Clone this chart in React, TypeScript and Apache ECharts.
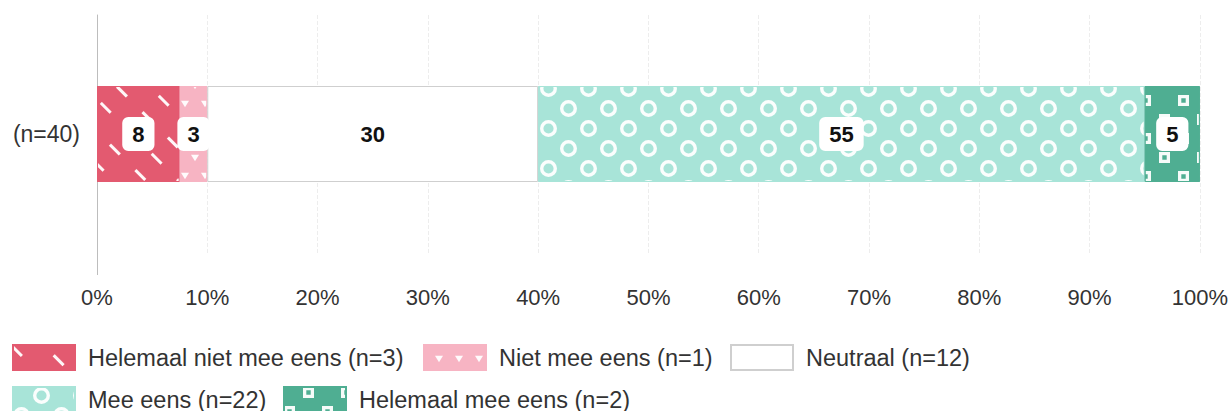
import React, { useEffect, useRef } from "react";
import * as echarts from "echarts";

const categories = ["(n=40)"];
const seriesNames = [
  "Helemaal niet mee eens (n=3)",
  "Niet mee eens (n=1)",
  "Neutraal (n=12)",
  "Mee eens (n=22)",
  "Helemaal mee eens (n=2)",
];
const seriesValues = [7.5, 2.5, 30, 55, 5];
const seriesColors = ["#e35a70", "#f7b4c3", "#ffffff", "#a8e4d8", "#4fae92"];
const xTicks = [0, 10, 20, 30, 40, 50, 60, 70, 80, 90, 100];

const FONT = "Liberation Sans, Arial, sans-serif";
const W = "rgba(255,255,255,0.95)";

const decals: any[] = [
  { symbol: "rect", color: W, dashArrayX: [14, 22], dashArrayY: [3, 20], rotation: Math.PI / 4, symbolSize: 1 },
  { symbol: "triangle", color: W, dashArrayX: [[10, 10], [0, 10, 10, 0]], dashArrayY: [8, 10], rotation: Math.PI, symbolSize: 0.8 },
  "none",
  {
    symbol: "path://M8 0A8 8 0 1 1 8 16A8 8 0 1 1 8 0ZM8 3.2A4.8 4.8 0 1 0 8 12.8A4.8 4.8 0 1 0 8 3.2Z",
    color: W,
    dashArrayX: [[17, 23], [0, 20, 17, 3]],
    dashArrayY: [17, 3],
    symbolSize: 1,
    symbolKeepAspect: true,
  },
  {
    symbol: "path://M0 0H10V10H0ZM3 3V7H7V3Z",
    color: W,
    dashArrayX: [[11, 27], [0, 19, 11, 8]],
    dashArrayY: [11, 8],
    symbolSize: 1,
    symbolKeepAspect: true,
  },
];

const legendPos = [
  { left: 12, top: 344 },
  { left: 423, top: 344 },
  { left: 730, top: 344 },
  { left: 12, top: 386 },
  { left: 283, top: 386 },
];

export default function App() {
  const ref = useRef<HTMLDivElement>(null);
  useEffect(() => {
    if (!ref.current) return;
    const chart = echarts.init(ref.current, null, { renderer: "svg" });
    const series = seriesNames.map((name, i) => ({
      name,
      type: "bar",
      stack: "total",
      barWidth: 96,
      data: [seriesValues[i]],
      itemStyle: {
        color: seriesColors[i],
        borderColor: i === 2 ? "#cfcfcf" : seriesColors[i],
        borderWidth: 1,
        decal: decals[i] === "none" ? undefined : decals[i],
      },
      label: {
        show: true,
        position: "inside",
        formatter: (p: any) => String(Math.round(p.value)),
        color: "#111",
        fontFamily: FONT,
        fontWeight: "bold",
        fontSize: 22,
        lineHeight: 22,
        backgroundColor: "#ffffff",
        borderRadius: 6,
        padding: [6, 10],
      },
    }));
    chart.setOption({
      animation: false,
      grid: { left: 97, right: 31, top: 15, bottom: 158 },
      xAxis: {
        type: "value",
        min: 0,
        max: 100,
        interval: 10,
        axisLine: { show: false },
        axisTick: { show: false },
        splitLine: { show: true, lineStyle: { color: "#ededed", type: "dashed" } },
        axisLabel: {
          formatter: (v: number) => (xTicks.includes(v) ? v + "%" : ""),
          color: "#333",
          fontFamily: FONT,
          fontSize: 22,
          margin: 33,
        },
      },
      yAxis: {
        type: "category",
        data: categories,
        axisLine: { show: true, lineStyle: { color: "#bdbdbd" } },
        axisTick: { show: false },
        axisLabel: { color: "#333", fontFamily: FONT, fontSize: 23, margin: 17 },
      },
      graphic: [
        {
          type: "line",
          shape: { x1: 97.5, y1: 253, x2: 97.5, y2: 275 },
          style: { stroke: "#bdbdbd", lineWidth: 1 },
          silent: true,
        },
      ],
      legend: seriesNames.map((name, i) => ({
        data: [name],
        left: legendPos[i].left,
        top: legendPos[i].top,
        padding: 0,
        itemWidth: 62,
        itemHeight: 25,
        icon: "rect",
        selectedMode: false,
        textStyle: { color: "#333", fontFamily: FONT, fontSize: 23.5, lineHeight: 24, padding: [0, 0, 0, 8] },
      })),
      series,
    });
    return () => chart.dispose();
  }, []);
  return <div ref={ref} style={{ position: "absolute", left: 0, top: 0, width: 1231, height: 411 }} />;
}
